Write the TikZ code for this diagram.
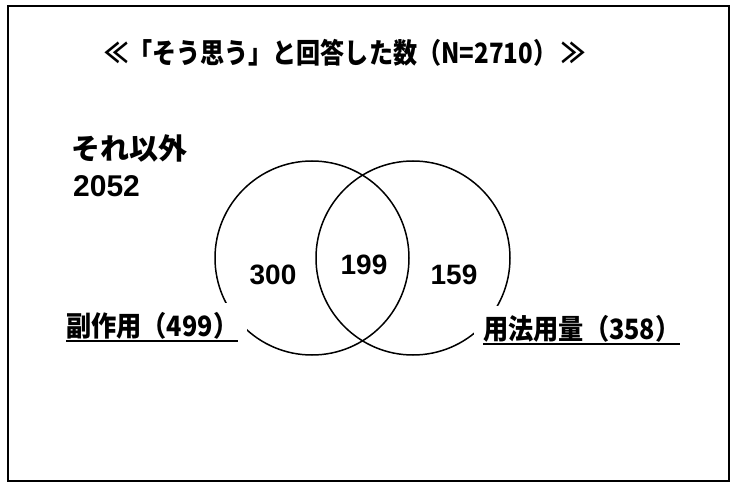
\documentclass[tikz,border=0pt]{standalone}
\usepackage{fontspec}
\setmainfont{Liberation Sans}
\newfontfamily\jpfont{Noto Sans CJK JP}
\newfontfamily\jpnarrow[FakeStretch=0.86]{Noto Sans CJK JP}
\newfontfamily\jplabel[FakeStretch=0.9]{Noto Sans CJK JP}
\newcommand{\ulbox}[1]{\setbox0=\hbox{#1}\rlap{\rule[-5.5pt]{\wd0}{1.6pt}}\box0}

\begin{document}
\begin{tikzpicture}[x=1pt,y=-1pt]
  \tikzstyle{set}=[draw, circle, line width=1.5pt, minimum size=194pt, inner sep=0pt]
  \tikzstyle{num}=[font=\fontsize{28}{30}\selectfont\bfseries, inner sep=0pt]
  \tikzstyle{setlabel}=[fill=white, inner sep=9pt, anchor=west, font=\jplabel\bfseries\fontsize{28}{30}\selectfont]
  \useasboundingbox (0,0) rectangle (734,484);
  \draw[line width=1.8pt] (8,6) rectangle (729,481);

  \node[inner sep=0pt, font=\jpnarrow\bfseries\fontsize{28}{32}\selectfont] (title) at (345,53) {≪「そう思う」と回答した数（N=2710）\,≫};
  \node[inner sep=0pt, anchor=west, font=\jpfont\bfseries\fontsize{29}{32}\selectfont] (other) at (71,148) {それ以外};
  \node[num, anchor=west, font=\fontsize{30}{32}\selectfont\bfseries] (othernum) at (73,186) {2052};

  \node[set] (sidefx) at (312,258) {};
  \node[set] (dosage) at (413,258) {};
  \node[num] (sidefxonly) at (273,275) {300};
  \node[num] (both) at (364,265) {199};
  \node[num] (dosageonly) at (454,275) {159};

  \node[setlabel] (sidefxlabel) at (57,327) {\ulbox{副作用（499）}};
  \node[setlabel] (dosagelabel) at (474,330) {\ulbox{用法用量（358）}};
\end{tikzpicture}
\end{document}
